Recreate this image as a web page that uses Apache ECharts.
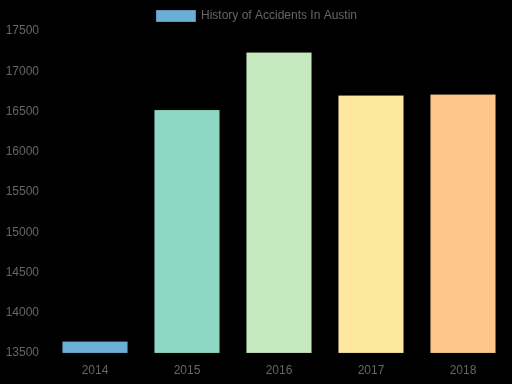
<!DOCTYPE html>
<html><head><meta charset="utf-8">
<script src="https://cdn.jsdelivr.net/npm/echarts@6/dist/echarts.min.js"></script>
<style>html,body{margin:0;padding:0;background:#000}#c{width:512px;height:384px}</style>
</head><body><div id="c"></div>
<script>
const categories = ['2014', '2015', '2016', '2017', '2018'];
const accidents = [13650, 16525, 17240, 16705, 16716];
const barColors = ['#6baed6', '#8dd7c4', '#c7e9c0', '#fee8a0', '#fdc68a'];
const seriesName = 'History of Accidents In Austin';

const chart = echarts.init(document.getElementById('c'), null, {renderer: 'canvas'});
chart.setOption({
  backgroundColor: '#000',
  animation: false,
  legend: {
    top: 4, left: 'center',
    icon: 'rect',
    itemWidth: 40, itemHeight: 12, itemGap: 6,
    data: [{name: seriesName, itemStyle: {color: barColors[0]}}],
    textStyle: {color: '#666', fontSize: 12, fontFamily: 'Liberation Sans, Arial, sans-serif'}
  },
  grid: {left: 49, right: 3, top: 31, bottom: 31, containLabel: false},
  xAxis: {
    type: 'category', data: categories,
    axisLine: {show: false}, axisTick: {show: false},
    axisLabel: {color: '#666', fontSize: 12, margin: 12, fontFamily: 'Liberation Sans, Arial, sans-serif'}
  },
  yAxis: {
    type: 'value', min: 13500, max: 17500, interval: 500,
    splitLine: {show: false}, axisLine: {show: false}, axisTick: {show: false},
    axisLabel: {color: '#666', fontSize: 12, margin: 10, formatter: v => String(v), fontFamily: 'Liberation Sans, Arial, sans-serif'}
  },
  series: [{
    name: seriesName, type: 'bar', barWidth: '72%',
    data: accidents.map((v, i) => ({value: v, itemStyle: {color: barColors[i]}})),
    itemStyle: {borderColor: 'rgba(0,0,0,0.15)', borderWidth: 1}
  }]
});
</script></body></html>
